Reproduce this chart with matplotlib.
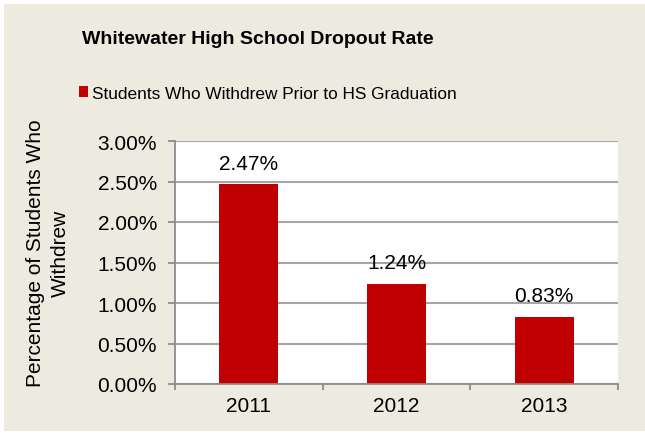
import matplotlib
matplotlib.use("Agg")
import matplotlib.pyplot as plt
from matplotlib.patches import Rectangle
from matplotlib.ticker import FixedLocator, PercentFormatter

plt.rcParams['font.family'] = ['Liberation Sans', 'DejaVu Sans']

years = ["2011", "2012", "2013"]
rates = [2.47, 1.24, 0.83]
labels = ["2.47%", "1.24%", "0.83%"]
yticks = [0.0, 0.5, 1.0, 1.5, 2.0, 2.5, 3.0]

W, H = 645, 435
FS = 15
fig = plt.figure(figsize=(W / 100, H / 100), dpi=100)
fig.patch.set_facecolor("white")
bg = "#EDEAE0"
fig.patches.append(Rectangle((4 / W, 3 / H), (W - 4) / W, (H - 8) / H,
                             transform=fig.transFigure, facecolor=bg,
                             edgecolor="none", zorder=-5))

ax = fig.add_axes([175 / W, (H - 385) / H, 443 / W, 243 / H])
ax.set_zorder(2)
ax.set_facecolor("white")
x = list(range(len(years)))
ax.bar(x, rates, width=0.4, color="#C00000", zorder=3)
ax.set_xlim(-0.5, 2.5)
ax.set_ylim(0, 3.0)
ax.set_yticks(yticks)
ax.yaxis.set_major_formatter(PercentFormatter(decimals=2))
ax.set_xticks(x)
ax.set_xticklabels(years)
ax.xaxis.set_minor_locator(FixedLocator([-0.5, 0.5, 1.5, 2.5]))
ax.tick_params(axis="x", which="major", length=0, pad=9, labelsize=FS)
ax.tick_params(axis="x", which="minor", length=4, color="#8C8C8C", width=1.3)
ax.tick_params(axis="y", length=5, color="#8C8C8C", width=1.3, labelsize=FS, pad=8)
ax.grid(axis="y", color="#A6A6A6", linewidth=1.5, zorder=1)
for s in ["top", "right"]:
    ax.spines[s].set_visible(False)
for s in ["left", "bottom"]:
    ax.spines[s].set_color("#8C8C8C")
    ax.spines[s].set_linewidth(1.3)
    ax.spines[s].set_zorder(4)

for xi, v, t in zip(x, rates, labels):
    ax.annotate(t, (xi, v), xytext=(0, 11), textcoords="offset points",
                ha="center", va="baseline", fontsize=FS)

fig.text(48 / W, 1 - 253 / H, "Percentage of Students Who\nWithdrew",
         rotation=90, ha="center", va="center", multialignment="center",
         fontsize=FS, linespacing=1.4)
fig.text(258 / W, 1 - 39 / H, "Whitewater High School Dropout Rate",
         ha="center", va="center", fontsize=14, fontweight="bold")
fig.patches.append(Rectangle((79 / W, 1 - 98 / H), 9 / W, 11 / H,
                             transform=fig.transFigure, facecolor="#C00000",
                             edgecolor="none", zorder=2))
fig.text(92 / W, 1 - 99 / H, "Students Who Withdrew Prior to HS Graduation",
         ha="left", va="baseline", fontsize=12.4)

fig.savefig("out.png", dpi=100, facecolor=fig.get_facecolor())
